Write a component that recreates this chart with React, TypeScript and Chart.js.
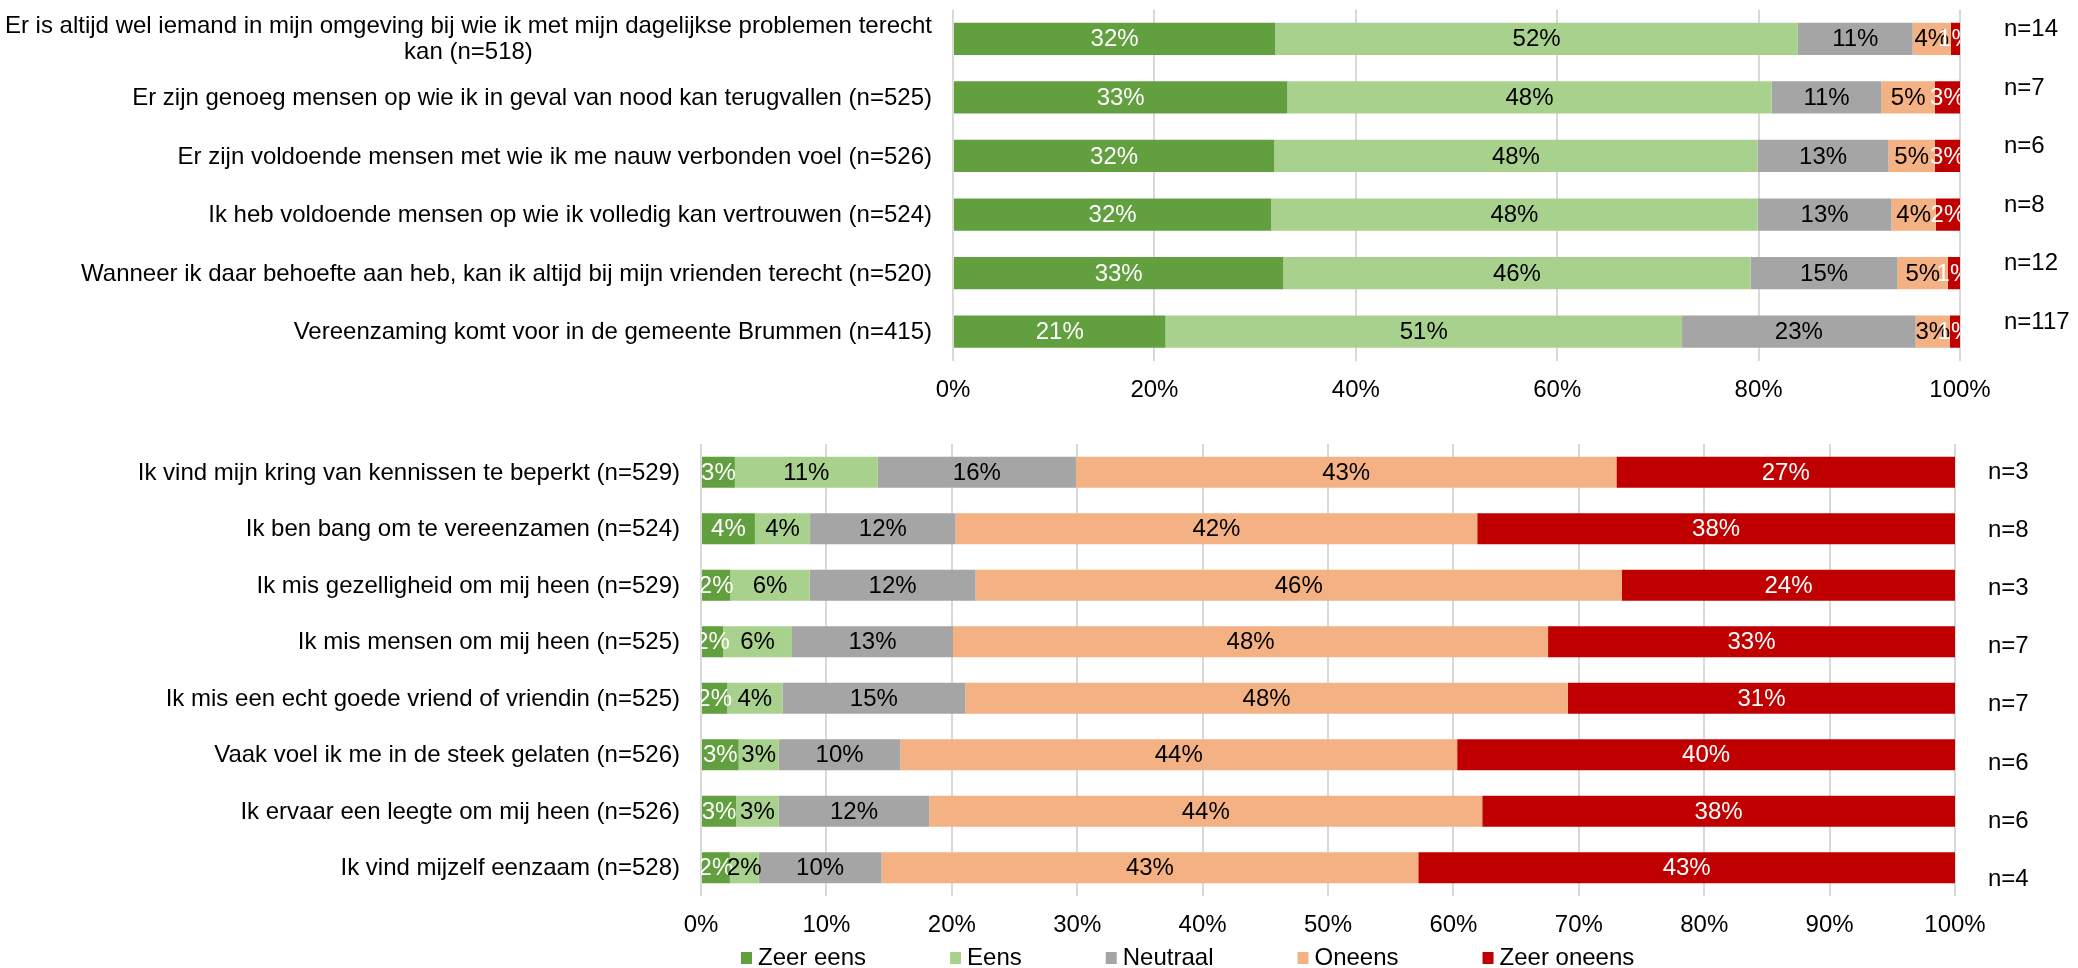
import React, { useEffect, useRef } from 'react';
import { Chart, registerables } from 'chart.js';

Chart.register(...registerables);

// ---------- DATA ----------
const seriesNames = ['Zeer eens', 'Eens', 'Neutraal', 'Oneens', 'Zeer oneens'];

const topCategories: (string | string[])[] = [
  ['Er is altijd wel iemand in mijn omgeving bij wie ik met mijn dagelijkse problemen terecht', 'kan (n=518)'],
  'Er zijn genoeg mensen op wie ik in geval van nood kan terugvallen (n=525)',
  'Er zijn voldoende mensen met wie ik me nauw verbonden voel (n=526)',
  'Ik heb voldoende mensen op wie ik volledig kan vertrouwen (n=524)',
  'Wanneer ik daar behoefte aan heb, kan ik altijd bij mijn vrienden terecht (n=520)',
  'Vereenzaming komt voor in de gemeente Brummen (n=415)',
];
const topMissing = ['n=14', 'n=7', 'n=6', 'n=8', 'n=12', 'n=117'];
const topZeerEens = [32.0, 33.2, 31.9, 31.6, 32.8, 21.1];
const topEens = [51.9, 48.1, 48.0, 48.3, 46.4, 51.3];
const topNeutraal = [11.4, 10.9, 13.0, 13.3, 14.6, 23.2];
const topOneens = [3.8, 5.3, 4.6, 4.4, 5.0, 3.4];
const topZeerOneens = [0.9, 2.5, 2.5, 2.4, 1.2, 1.0];
const topTicks = [0, 20, 40, 60, 80, 100];

const bottomCategories: string[] = [
  'Ik vind mijn kring van kennissen te beperkt (n=529)',
  'Ik ben bang om te vereenzamen (n=524)',
  'Ik mis gezelligheid om mij heen (n=529)',
  'Ik mis mensen om mij heen (n=525)',
  'Ik mis een echt goede vriend of vriendin (n=525)',
  'Vaak voel ik me in de steek gelaten (n=526)',
  'Ik ervaar een leegte om mij heen (n=526)',
  'Ik vind mijzelf eenzaam (n=528)',
];
const bottomMissing = ['n=3', 'n=8', 'n=3', 'n=7', 'n=7', 'n=6', 'n=6', 'n=4'];
const bottomZeerEens = [2.7, 4.3, 2.1, 1.8, 2.1, 3.0, 2.8, 2.3];
const bottomEens = [11.4, 4.4, 5.7, 5.6, 4.4, 3.2, 3.4, 2.3];
const bottomNeutraal = [15.8, 11.6, 11.9, 13.1, 14.6, 9.7, 12.0, 9.8];
const bottomOneens = [43.1, 41.6, 46.4, 48.4, 48.1, 44.4, 44.1, 42.8];
const bottomZeerOneens = [27.0, 38.1, 23.9, 33.1, 30.9, 39.7, 37.7, 42.8];
const bottomTicks = [0, 10, 20, 30, 40, 50, 60, 70, 80, 90, 100];

// ---------- STYLE ----------
const seriesColors = ['#62A03F', '#A9D18E', '#A5A5A5', '#F4B183', '#C00000'];
const valueLabelColors = ['#FFFFFF', '#000000', '#000000', '#000000', '#FFFFFF'];
const FONT = '"Liberation Sans", Arial, sans-serif';
const FONT_SIZE = 24;
const GRID = '#D9D9D9';

// normalise rows to 100% (100% stacked bar), keep raw values for labels
function buildDatasets(series: number[][]) {
  const n = series[0].length;
  const sums = Array.from({ length: n }, (_, i) => series.reduce((s, arr) => s + arr[i], 0));
  return series.map((arr, si) => ({
    label: seriesNames[si],
    data: arr.map((v, i) => (v / sums[i]) * 100),
    rawValues: arr,
    backgroundColor: seriesColors[si],
    borderWidth: 0,
    barPercentage: 0.55,
    categoryPercentage: 1,
  }));
}

const valueLabelPlugin = {
  id: 'valueLabels',
  afterDatasetsDraw(chart: any) {
    const { ctx, chartArea } = chart;
    ctx.save();
    ctx.beginPath();
    ctx.rect(chartArea.left, chartArea.top, chartArea.right - chartArea.left, chartArea.bottom - chartArea.top);
    ctx.clip();
    ctx.font = `${FONT_SIZE}px ${FONT}`;
    ctx.textAlign = 'center';
    ctx.textBaseline = 'middle';
    chart.data.datasets.forEach((ds: any, di: number) => {
      const meta = chart.getDatasetMeta(di);
      meta.data.forEach((bar: any, i: number) => {
        const p = bar.getProps(['x', 'y', 'base'], true);
        ctx.fillStyle = valueLabelColors[di];
        ctx.fillText(Math.round(ds.rawValues[i]) + '%', (p.x + p.base) / 2, p.y + 1);
      });
    });
    ctx.restore();
  },
};

const categoryLabelPlugin = {
  id: 'categoryLabels',
  afterDraw(chart: any, _args: any, opts: any) {
    const { ctx, chartArea } = chart;
    const scale = chart.scales.y;
    const right = chartArea.left - opts.gap;
    ctx.save();
    ctx.font = `${FONT_SIZE}px ${FONT}`;
    ctx.fillStyle = '#000000';
    ctx.textBaseline = 'middle';
    (chart.data.labels as any[]).forEach((label, i) => {
      const y = scale.getPixelForTick(i) + 1;
      const lines: string[] = Array.isArray(label) ? label : [label];
      if (lines.length === 1) {
        ctx.textAlign = 'right';
        ctx.fillText(lines[0], right, y);
      } else {
        const w = Math.max(...lines.map((l) => ctx.measureText(l).width));
        const cx = right - w / 2;
        ctx.textAlign = 'center';
        lines.forEach((l, k) => ctx.fillText(l, cx, y + (k - (lines.length - 1) / 2) * opts.lineHeight));
      }
    });
    ctx.textAlign = 'left';
    const y0 = scale.getPixelForTick(0);
    (opts.nLabels as string[]).forEach((t, i) => {
      const y = y0 + (scale.getPixelForTick(i) - y0) * opts.nSpread + opts.nOffset;
      ctx.fillText(t, chartArea.right + opts.nGap, y);
    });
    ctx.restore();
  },
};

const legendPlugin = {
  id: 'swatchLegend',
  afterDraw(chart: any, _args: any, opts: any) {
    if (!opts || !opts.show) return;
    const { ctx, chartArea } = chart;
    ctx.save();
    ctx.font = `${FONT_SIZE}px ${FONT}`;
    ctx.textBaseline = 'middle';
    ctx.textAlign = 'left';
    let x = chartArea.left + opts.startOffset;
    const y = opts.y;
    chart.data.datasets.forEach((ds: any) => {
      ctx.fillStyle = ds.backgroundColor;
      ctx.fillRect(x, y - opts.boxH / 2, opts.boxW, opts.boxH);
      x += opts.boxW + opts.textGap;
      ctx.fillStyle = '#000000';
      ctx.fillText(ds.label, x, y);
      x += ctx.measureText(ds.label).width + opts.itemGap;
    });
    ctx.restore();
  },
};

function makeConfig(p: {
  labels: any[];
  series: number[][];
  ticks: number[];
  nLabels: string[];
  yWidth: number;
  xHeight: number;
  padding: any;
  nGap: number;
  nOffset: number;
  nSpread: number;
  legend?: any;
}) {
  return {
    type: 'bar',
    data: { labels: p.labels, datasets: buildDatasets(p.series) },
    options: {
      indexAxis: 'y',
      responsive: false,
      animation: false,
      devicePixelRatio: 1,
      layout: { padding: p.padding },
      scales: {
        x: {
          stacked: true,
          min: 0,
          max: 100,
          afterBuildTicks: (scale: any) => {
            scale.ticks = p.ticks.map((v) => ({ value: v }));
          },
          afterFit: (scale: any) => {
            scale.height = p.xHeight;
          },
          grid: { color: GRID, lineWidth: 2, drawTicks: false },
          border: { display: false },
          ticks: {
            padding: 15,
            color: '#000000',
            font: { family: FONT, size: FONT_SIZE },
            callback: (v: any) => v + '%',
          },
        },
        y: {
          stacked: true,
          afterFit: (scale: any) => {
            scale.width = p.yWidth;
          },
          grid: { display: false },
          border: { display: false },
          ticks: { display: false },
        },
      },
      plugins: {
        legend: { display: false },
        tooltip: { enabled: false },
        categoryLabels: {
          gap: 21,
          lineHeight: 26,
          nLabels: p.nLabels,
          nGap: p.nGap,
          nOffset: p.nOffset,
          nSpread: p.nSpread,
        },
        swatchLegend: p.legend || { show: false },
      },
    },
    plugins: [valueLabelPlugin, categoryLabelPlugin, legendPlugin],
  };
}

export default function App() {
  const topRef = useRef<HTMLCanvasElement>(null);
  const bottomRef = useRef<HTMLCanvasElement>(null);

  useEffect(() => {
    const top = new Chart(
      topRef.current as HTMLCanvasElement,
      makeConfig({
        labels: topCategories,
        series: [topZeerEens, topEens, topNeutraal, topOneens, topZeerOneens],
        ticks: topTicks,
        nLabels: topMissing,
        yWidth: 953,
        xHeight: 59,
        padding: { left: 0, right: 118, top: 9.5, bottom: 0 },
        nGap: 44,
        nOffset: -9.5,
        nSpread: 1,
      }) as any
    );
    const bottom = new Chart(
      bottomRef.current as HTMLCanvasElement,
      makeConfig({
        labels: bottomCategories,
        series: [bottomZeerEens, bottomEens, bottomNeutraal, bottomOneens, bottomZeerOneens],
        ticks: bottomTicks,
        nLabels: bottomMissing,
        yWidth: 701,
        xHeight: 72,
        padding: { left: 0, right: 123, top: 24, bottom: 0 },
        nGap: 33,
        nOffset: 0.5,
        nSpread: 1.027,
        legend: { show: true, startOffset: 40, y: 538, boxW: 11, boxH: 12, textGap: 6, itemGap: 84 },
      }) as any
    );
    return () => {
      top.destroy();
      bottom.destroy();
    };
  }, []);

  return (
    <div style={{ position: 'fixed', left: 0, top: 0, width: 2078, height: 968, background: '#ffffff' }}>
      <canvas ref={topRef} width={2078} height={420} style={{ position: 'absolute', left: 0, top: 0, display: 'block' }} />
      <canvas ref={bottomRef} width={2078} height={548} style={{ position: 'absolute', left: 0, top: 420, display: 'block' }} />
    </div>
  );
}
